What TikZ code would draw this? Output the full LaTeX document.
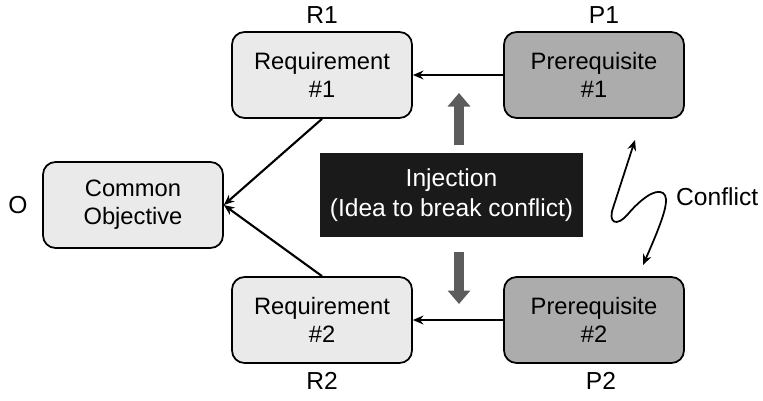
\documentclass[tikz,border=0pt]{standalone}
\usepackage{fontspec}
\setmainfont{Liberation Sans}
\usetikzlibrary{arrows.meta, positioning}
\definecolor{mylightgray}{RGB}{234, 234, 234}
\definecolor{mymidgray}{RGB}{172, 172, 172}
\definecolor{mydarkgray}{RGB}{26, 26, 26}
\definecolor{myarrowgray}{RGB}{92, 92, 92}

\begin{document}
\begin{tikzpicture}[x=0.02cm, y=-0.02cm, >={Stealth[length=6pt, width=5pt]},
    box/.style={draw, line width=1pt, rounded corners=0.25cm, minimum width=3.6cm,
        minimum height=1.72cm, align=center, font=\fontsize{13.5}{16}\selectfont},
    tag/.style={font=\fontsize{14}{16}\selectfont},
    link/.style={->, line width=1.2pt},
    fatarrow/.style={-{Triangle[length=0.27cm, width=0.44cm]}, line width=0.2cm, myarrowgray}]
\useasboundingbox (0,0) rectangle (763,400);

% Common objective
\node[box, fill=mylightgray] (obj) at (133,205) {Common\\Objective};
\node[tag] (objtag) at (18,205) {O};

% Requirements and prerequisites
\foreach \nm/\x/\y/\word/\n/\col in {r1/322/75/Requirement/1/mylightgray,
        r2/322/320/Requirement/2/mylightgray,
        p1/594/75/Prerequisite/1/mymidgray,
        p2/594/320/Prerequisite/2/mymidgray} {
    \node[box, fill=\col] (\nm) at (\x,\y) {\word\\\#\n};
}
\node[tag, above=1pt of r1] (r1tag) {R1};
\node[tag, above=1pt of p1, xshift=0.2cm] (p1tag) {P1};
\node[tag, below=1pt of r2] (r2tag) {R2};
\node[tag, below=1pt of p2, xshift=0.14cm] (p2tag) {P2};

% Links
\draw[link] (p1) -- (r1);
\draw[link] (p2) -- (r2);
\draw[link] (r1.south) -- (obj.east);
\draw[link] (r2.north) -- (obj.east);

% Injection
\node[fill=mydarkgray, text=white, minimum width=5.26cm, minimum height=1.68cm,
    align=center, font=\fontsize{14}{17}\selectfont] (inj) at (451.5,195)
    {Injection\\(Idea to break conflict)};
\coordinate (upbase) at (459,145);
\coordinate (uptip) at (459,93);
\coordinate (downbase) at (459,252);
\coordinate (downtip) at (459,304);
\draw[fatarrow] (upbase) -- (uptip);
\draw[fatarrow] (downbase) -- (downtip);

% Conflict
\coordinate (cfa) at (635,140);
\coordinate (cfb) at (643,265);
\draw[<->, line width=1pt] (cfa) -- (613,208)
    .. controls (608,222) and (616,228) .. (628,214)
    .. controls (640,200) and (655,188) .. (663,193)
    .. controls (670,198) and (665,215) .. (cfb);
\node[tag, anchor=west] (cftag) at (670,197) {Conflict};
\end{tikzpicture}
\end{document}
